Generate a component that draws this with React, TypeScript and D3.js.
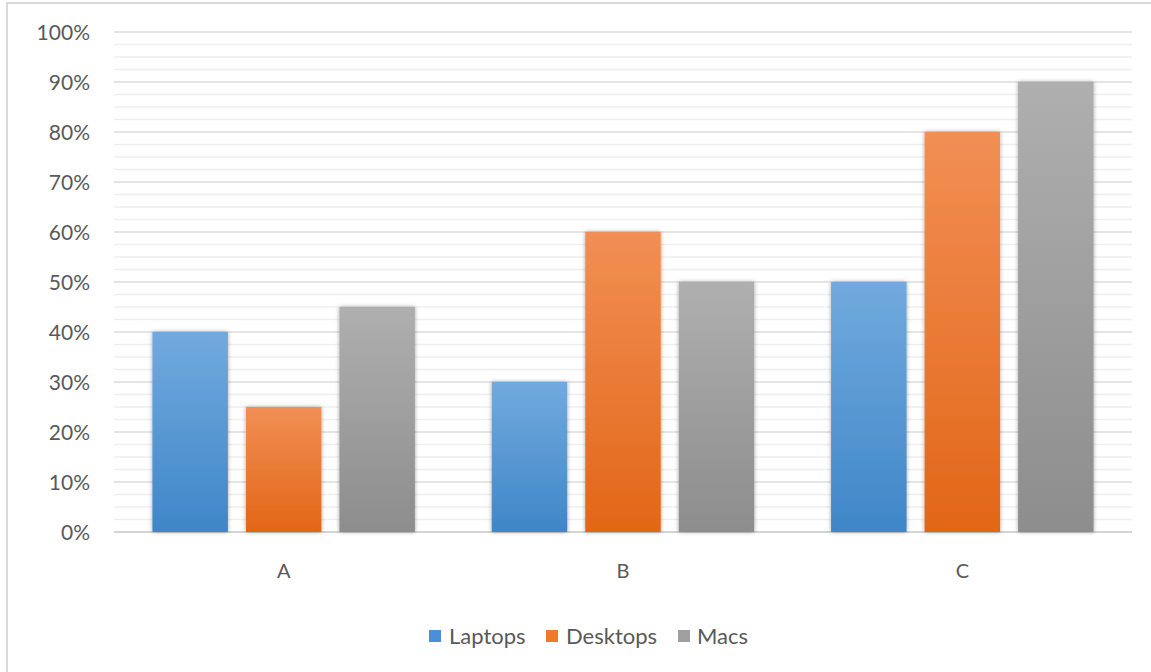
import React from "react";
import * as d3 from "d3";

const categories = ["A", "B", "C"];
const seriesNames = ["Laptops", "Desktops", "Macs"];
const laptops = [40, 30, 50];
const desktops = [25, 60, 80];
const macs = [45, 50, 90];
const yTicks = [0, 10, 20, 30, 40, 50, 60, 70, 80, 90, 100];

const W = 1151;
const H = 672;
const plot = { left: 114, right: 1132, top: 32, bottom: 532 };
const colors = {
  Laptops: ["#72aade", "#3f86c8"],
  Desktops: ["#f28f55", "#e26617"],
  Macs: ["#afafaf", "#8d8d8d"],
};
const legendSwatch: Record<string, string> = {
  Laptops: "#4a90d9",
  Desktops: "#f07a2a",
  Macs: "#a0a0a0",
};
const FONT = "Lato, 'Open Sans', sans-serif";

export default function App() {
  const values = [laptops, desktops, macs];
  const x = d3.scaleBand<string>().domain(categories).range([plot.left, plot.right]).paddingInner(0).paddingOuter(0);
  const groupW = 262.5;
  const inner = d3.scaleBand<string>().domain(seriesNames).range([0, groupW]).paddingInner(0.1925).paddingOuter(0);
  const y = d3.scaleLinear().domain([0, 100]).range([plot.bottom, plot.top]);
  const minor = d3.range(0, 100.01, 2.5).filter((v) => v % 10 !== 0);

  const legendItems = [
    { name: "Laptops", sx: 429, tx: 449 },
    { name: "Desktops", sx: 546, tx: 566 },
    { name: "Macs", sx: 678, tx: 697 },
  ];

  return (
    <svg width={W} height={H} style={{ position: "absolute", left: 0, top: 0, background: "#fff" }}>
      <defs>
        {seriesNames.map((s) => (
          <linearGradient key={s} id={`g-${s}`} x1="0" y1="0" x2="0" y2="1">
            <stop offset="0%" stopColor={(colors as any)[s][0]} />
            <stop offset="100%" stopColor={(colors as any)[s][1]} />
          </linearGradient>
        ))}
        <filter id="shadow" x="-20%" y="-10%" width="140%" height="120%">
          <feDropShadow dx="0" dy="0" stdDeviation="2.2" floodColor="#000" floodOpacity="0.35" />
        </filter>
      </defs>
      <rect x={0} y={0} width={W} height={H} fill="#fff" />
      <rect x={7} y={3} width={W + 20} height={H + 20} fill="#fff" stroke="#d9d9d9" strokeWidth={2} />
      {minor.map((v) => (
        <line key={`m${v}`} x1={plot.left} x2={plot.right} y1={y(v)} y2={y(v)} stroke="#efefef" strokeWidth={1.3} />
      ))}
      {yTicks.map((v) => (
        <line key={`M${v}`} x1={plot.left} x2={plot.right} y1={y(v)} y2={y(v)} stroke={v === 0 ? "#d4d4d4" : "#dcdcdc"} strokeWidth={v === 0 ? 2 : 1.5} />
      ))}
      {yTicks.map((v) => (
        <text key={`t${v}`} x={90} y={y(v)} dy="0.36em" textAnchor="end" fontFamily={FONT} fontSize={21} fill="#595959">
          {v}%
        </text>
      ))}
      {categories.map((c, ci) => {
        const gx = (x(c) as number) + (x.bandwidth() - groupW) / 2;
        return (
          <g key={c}>
            {seriesNames.map((s, si) => {
              const v = values[si][ci];
              const bx = gx + (inner(s) as number);
              return (
                <rect
                  key={s}
                  x={bx}
                  y={y(v)}
                  width={inner.bandwidth()}
                  height={y(0) - y(v)}
                  fill={`url(#g-${s})`}
                  filter="url(#shadow)"
                />
              );
            })}
            <text x={(x(c) as number) + x.bandwidth() / 2} y={571} dy="0.36em" textAnchor="middle" fontFamily={FONT} fontSize={20} fill="#595959">
              {c}
            </text>
          </g>
        );
      })}
      {legendItems.map((it) => (
        <g key={it.name}>
          <rect x={it.sx} y={630} width={12} height={12} fill={legendSwatch[it.name]} />
          <text x={it.tx} y={636} dy="0.36em" fontFamily={FONT} fontSize={22} fill="#595959">
            {it.name}
          </text>
        </g>
      ))}
    </svg>
  );
}
